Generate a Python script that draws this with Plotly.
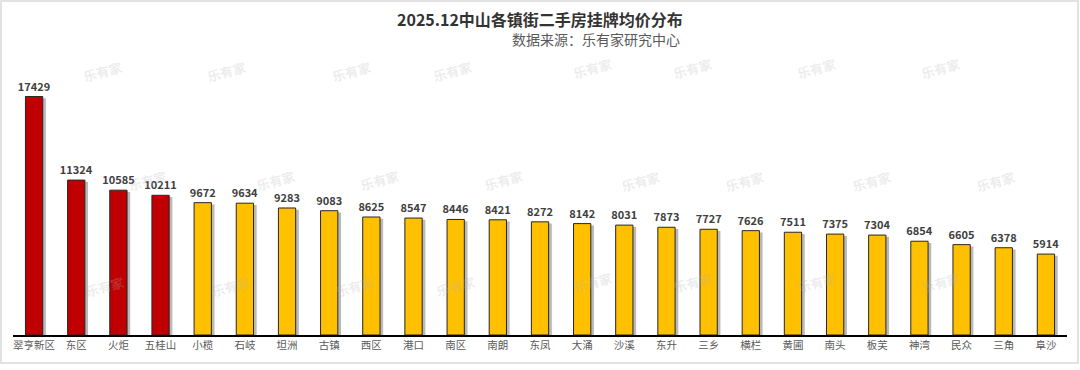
import plotly.graph_objects as go

towns = ["翠亨新区", "东区", "火炬", "五桂山", "小榄", "石岐", "坦洲", "古镇", "西区", "港口",
         "南区", "南朗", "东凤", "大涌", "沙溪", "东升", "三乡", "横栏", "黄圃", "南头",
         "板芙", "神湾", "民众", "三角", "阜沙"]
prices = [17429, 11324, 10585, 10211, 9672, 9634, 9283, 9083, 8625, 8547,
          8446, 8421, 8272, 8142, 8031, 7873, 7727, 7626, 7511, 7375,
          7304, 6854, 6605, 6378, 5914]
highlight_count = 4

colors = ["#C00000" if i < highlight_count else "#FFC000" for i in range(len(towns))]

W, H = 1080, 370
ML, MR, MT, MB = 13, 13, 60, 35
PW, PH = W - ML - MR, H - MT - MB


def px(x):
    return (x - ML) / PW


def py(y):
    return (H - MB - y) / PH


fig = go.Figure()

# shadow
fig.add_trace(go.Bar(
    x=towns, y=[v - 130 for v in prices],
    width=0.41, offset=-0.205 + 0.075,
    marker=dict(color="rgba(70,70,70,0.38)", line=dict(width=0)),
    hoverinfo="skip", showlegend=False,
))
# main bars
fig.add_trace(go.Bar(
    x=towns, y=prices,
    width=0.41, offset=-0.205,
    marker=dict(color=colors, line=dict(color="#262626", width=1)),
    text=[str(v) for v in prices], textposition="outside", constraintext="none",
    textfont=dict(family="Noto Sans CJK SC, Noto Sans, sans-serif", size=11, color="#404040",
                  weight="bold"),
    cliponaxis=False, showlegend=False,
))

# watermarks
wm_pts = [(79, 55), (203, 55), (328, 55), (452, 55), (592, 52), (716, 52), (840, 52), (964, 52),
          (124, 180), (252, 180), (379, 180), (503, 180), (640, 181), (768, 181), (895, 181), (1019, 181),
          (81, 303), (207, 303), (331, 303), (455, 303), (592, 299), (716, 299), (840, 299), (964, 299)]
annotations = []
for (x, y) in wm_pts:
    annotations.append(dict(
        x=px(x), y=py(y), xref="paper", yref="paper", text="<b>乐有家</b>",
        showarrow=False, textangle=-15,
        font=dict(family="Noto Sans CJK SC, sans-serif", size=13, color="rgba(180,180,180,0.25)"),
    ))

annotations.append(dict(
    x=px(540), y=py(19), xref="paper", yref="paper", xanchor="center", yanchor="middle",
    text="<b>2025.12中山各镇街二手房挂牌均价分布</b>", showarrow=False,
    font=dict(family="Noto Sans CJK SC, sans-serif", size=16, color="#333333"),
))
annotations.append(dict(
    x=px(682), y=py(39), xref="paper", yref="paper", xanchor="right", yanchor="middle",
    text="数据来源：乐有家研究中心", showarrow=False,
    font=dict(family="Noto Sans CJK SC, sans-serif", size=14, color="#595959"),
))

fig.update_layout(
    width=W, height=H,
    margin=dict(l=ML, r=MR, t=MT, b=MB, pad=0),
    paper_bgcolor="white", plot_bgcolor="white",
    barmode="overlay",
    annotations=annotations,
    shapes=[dict(type="rect", xref="paper", yref="paper",
                 x0=px(1), x1=px(1078), y0=py(363), y1=py(1),
                 line=dict(color="#D9D9D9", width=1.5), layer="below")],
    xaxis=dict(
        showline=True, linecolor="#000000", linewidth=1.5,
        ticks="", showgrid=False, zeroline=False,
        tickfont=dict(family="Noto Sans CJK SC, sans-serif", size=10.5, color="#595959"),
        range=[-0.5, len(towns) - 0.5],
    ),
    yaxis=dict(
        range=[0, 20100], visible=False, showgrid=False, zeroline=False,
    ),
    font=dict(family="Noto Sans CJK SC, sans-serif"),
)

fig.write_html("out.html", config={"displayModeBar": False},
               post_script="document.body.style.margin='0';")
